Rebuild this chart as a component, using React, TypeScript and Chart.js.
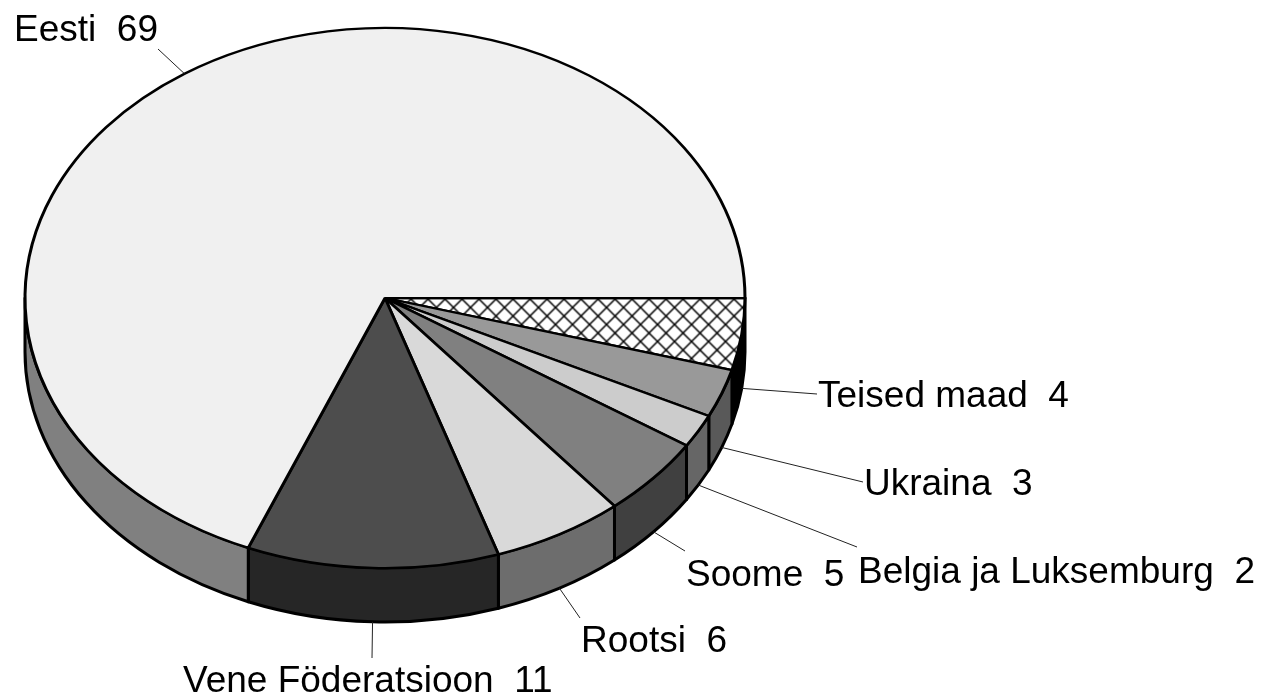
import React, { useEffect, useRef } from "react";
import { Chart, registerables } from "chart.js";

Chart.register(...registerables);

const labels = ["Teised maad", "Ukraina", "Belgia ja Luksemburg", "Soome", "Rootsi", "Vene Föderatsioon", "Eesti"];
const values = [4.3, 2.9, 2.0, 4.8, 5.9, 11.3, 68.8];
const topColors = ["#ffffff", "#999999", "#cccccc", "#808080", "#d9d9d9", "#4d4d4d", "#f0f0f0"];
const wallColors = ["#000000", "#595959", "#666666", "#404040", "#6d6d6d", "#262626", "#808080"];
// left x and baseline y of each label's text, then the free end of its leader line
const labelAt = [[818, 407], [864, 495], [858, 583], [686, 586], [581, 652], [183, 692], [14, 41]];
const leaderEnd = [[817, 394], [863, 482], [857, 547], [685, 551], [580, 618], [372, 658], [158, 49]];

const W = 1261, H = 698;
const CX = 385, CY = 298, RX = 360, TILT = 0.75, DEPTH = 54;
const LINE = 3;

function hatch(ctx: CanvasRenderingContext2D) {
  const n = 17;
  const c = document.createElement("canvas");
  c.width = n; c.height = n;
  const g = c.getContext("2d")!;
  g.fillStyle = "#ffffff";
  g.fillRect(0, 0, n, n);
  g.strokeStyle = "#000000";
  g.lineWidth = 1.5;
  g.beginPath();
  g.moveTo(-1, -1); g.lineTo(n + 1, n + 1);
  g.moveTo(n + 1, -1); g.lineTo(-1, n + 1);
  g.stroke();
  const p = ctx.createPattern(c, "repeat")!;
  p.setTransform(new DOMMatrix().translate(0, CY).scale(1, 1 / TILT).translate(0, -CY).translate(11.5, 1.5));
  return p;
}

const pie3d = {
  id: "pie3d",
  beforeDatasetDraw(chart: any) {
    const ctx = chart.ctx;
    const arcs = chart.getDatasetMeta(0).data;
    const rx = arcs[0].outerRadius;
    const ry = rx * TILT;
    ctx.save();
    ctx.lineWidth = LINE;
    ctx.strokeStyle = "#000000";
    ctx.lineJoin = "round";
    arcs.forEach((arc: any, i: number) => {
      const a0 = Math.max(arc.startAngle, 0);
      const a1 = Math.min(arc.endAngle, Math.PI);
      if (a1 <= a0) return;
      ctx.beginPath();
      ctx.ellipse(arc.x, arc.y, rx, ry, 0, a0, a1);
      ctx.ellipse(arc.x, arc.y + DEPTH, rx, ry, 0, a1, a0, true);
      ctx.closePath();
      ctx.fillStyle = wallColors[i];
      ctx.fill();
      ctx.stroke();
    });
    ctx.restore();
    ctx.save();
    ctx.translate(0, CY);
    ctx.scale(1, TILT);
    ctx.translate(0, -CY);
  },
  afterDatasetDraw(chart: any) {
    chart.ctx.restore();
  },
  afterDraw(chart: any) {
    const ctx = chart.ctx;
    const arcs = chart.getDatasetMeta(0).data;
    ctx.save();
    arcs.forEach((arc: any, i: number) => {
      const mid = (arc.startAngle + arc.endAngle) / 2;
      const x = arc.x + arc.outerRadius * Math.cos(mid);
      const below = Math.sin(mid) > 0 ? DEPTH : 0;
      const y = arc.y + arc.outerRadius * TILT * Math.sin(mid) + below;
      ctx.beginPath();
      ctx.moveTo(x, y);
      ctx.lineTo(leaderEnd[i][0], leaderEnd[i][1]);
      ctx.lineWidth = 1;
      ctx.strokeStyle = "#222222";
      ctx.stroke();
      ctx.fillStyle = "#000000";
      ctx.font = '37px "Liberation Sans", Arial, sans-serif';
      ctx.textAlign = "left";
      ctx.textBaseline = "alphabetic";
      ctx.fillText(`${labels[i]}  ${Math.round(values[i])}`, labelAt[i][0], labelAt[i][1]);
    });
    ctx.restore();
  },
};

export default function App() {
  const ref = useRef<HTMLCanvasElement | null>(null);
  useEffect(() => {
    const canvas = ref.current!;
    const ctx = canvas.getContext("2d")!;
    const colors: any[] = topColors.slice();
    colors[0] = hatch(ctx);
    const chart = new Chart(canvas, {
      type: "pie",
      data: {
        labels,
        datasets: [{
          data: values,
          backgroundColor: colors,
          borderColor: "#000000",
          borderWidth: LINE,
          borderJoinStyle: "round",
          radius: RX,
          clip: false,
        } as any],
      },
      options: {
        responsive: false,
        animation: false,
        rotation: 90,
        layout: { padding: { left: 0, top: 0, right: W - 2 * CX, bottom: H - 2 * CY } },
        plugins: { legend: { display: false }, tooltip: { enabled: false } },
      },
      plugins: [pie3d],
    });
    return () => chart.destroy();
  }, []);
  return (
    <div style={{ position: "fixed", left: 0, top: 0, width: W, height: H, background: "#ffffff" }}>
      <canvas ref={ref} width={W} height={H} style={{ display: "block" }} />
    </div>
  );
}
